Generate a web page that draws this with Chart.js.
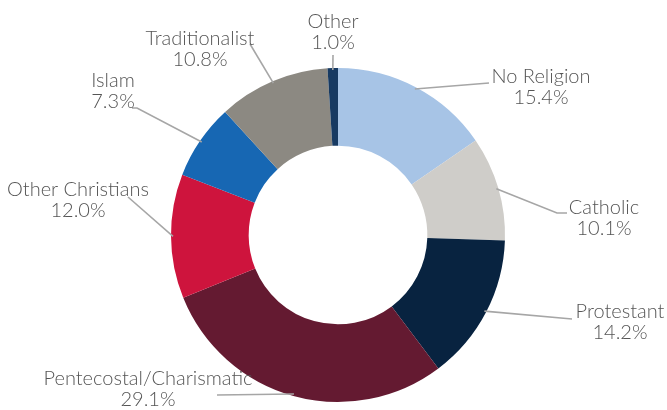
<!DOCTYPE html>
<html><head><meta charset="utf-8">
<script src="https://cdn.jsdelivr.net/npm/chart.js@4"></script>
<style>html,body{margin:0;padding:0;background:#fff}#wrap{width:667px;height:410px}</style>
</head><body><div id="wrap"><canvas id="c" width="667" height="410"></canvas></div>
<script>
const categories = ["No Religion","Catholic","Protestant","Pentecostal/Charismatic","Other Christians","Islam","Traditionalist","Other"];
const shares = [15.4,10.1,14.2,29.1,12.0,7.3,10.8,1.0];
const colors = ["#A7C4E6","#CFCDC9","#082340","#641A31","#CE143D","#1767B3","#8C8982","#173A62"];

// label layout: text centre x, first-line baseline y, leader path (bend points) ending at label
const labelLayout = [
  {cx:541, by:83,  path:[[489,83]]},
  {cx:604, by:214, path:[[557,213],[567,213]]},
  {cx:620, by:318, path:[[572,319]]},
  {cx:148, by:385, path:[[217,395]]},
  {cx:78,  by:196, path:[[128,197]]},
  {cx:113, by:87,  path:[[137,108],[132,108]]},
  {cx:200, by:45,  path:[[250,44]]},
  {cx:333, by:28,  path:[[333,55]]}
];

const labelPlugin = {
  id:'labels',
  afterDatasetsDraw(chart){
    const ctx = chart.ctx;
    const meta = chart.getDatasetMeta(0);
    ctx.save();
    meta.data.forEach((arc,i)=>{
      const L = labelLayout[i];
      const p = arc.getProps(['x','y','startAngle','endAngle','outerRadius'],true);
      const mid = (p.startAngle+p.endAngle)/2;
      const sx = p.x + Math.cos(mid)*(p.outerRadius-2);
      const sy = p.y + Math.sin(mid)*(p.outerRadius-2);
      ctx.strokeStyle = '#A6A6A6';
      ctx.lineWidth = 1.6;
      ctx.beginPath();
      ctx.moveTo(sx,sy);
      L.path.forEach(pt=>ctx.lineTo(pt[0],pt[1]));
      ctx.stroke();
      ctx.fillStyle = '#555555';
      ctx.font = '300 20px Lato';
      ctx.textAlign = 'center';
      ctx.textBaseline = 'alphabetic';
      ctx.fillText(categories[i], L.cx, L.by);
      ctx.fillText(shares[i].toFixed(1)+'%', L.cx, L.by+21);
    });
    ctx.restore();
  }
};

new Chart(document.getElementById('c'),{
  type:'doughnut',
  data:{labels:categories,datasets:[{data:shares,backgroundColor:colors,borderWidth:0}]},
  options:{
    responsive:false,animation:false,cutout:'53.5%',
    layout:{padding:{left:171,right:162,top:68,bottom:8}},
    plugins:{legend:{display:false},tooltip:{enabled:false}}
  },
  plugins:[labelPlugin]
});
</script></body></html>
